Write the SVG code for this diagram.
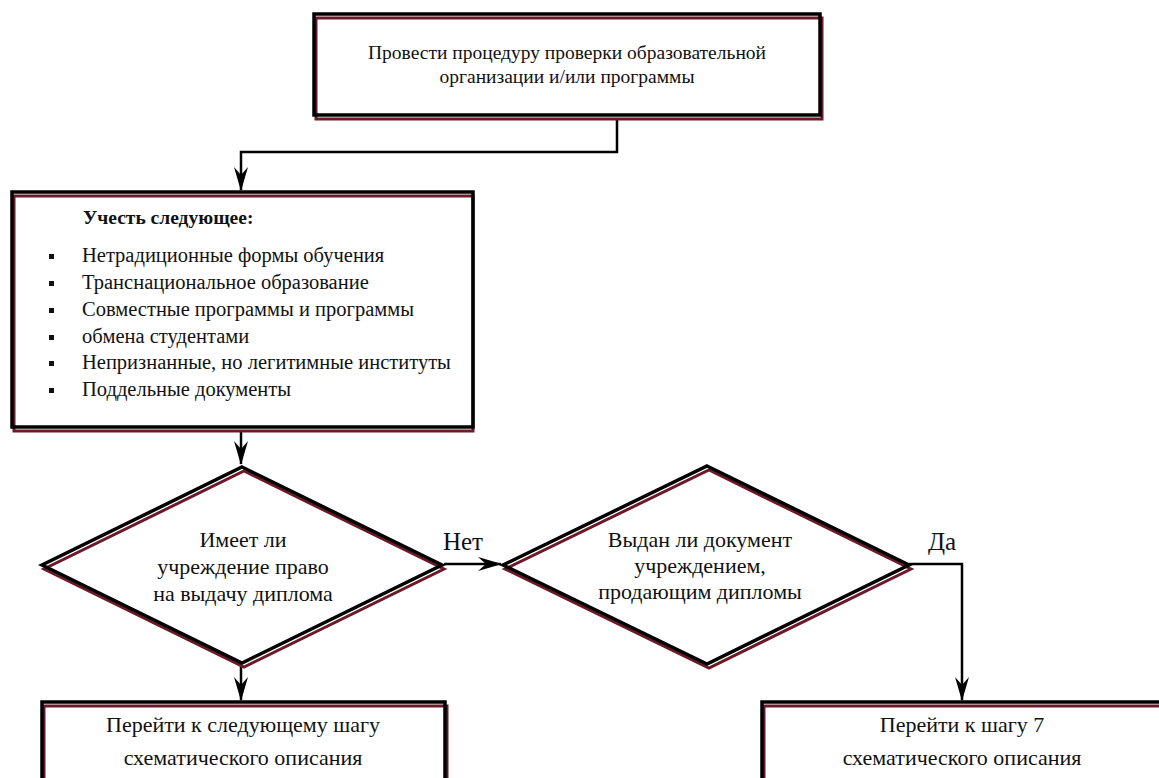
<svg xmlns="http://www.w3.org/2000/svg" width="1159" height="778" viewBox="0 0 1159 778">
<style>
.bk{fill:none;stroke:#000;stroke-width:3.5}
.mr{fill:none;stroke:#6b1a2a;stroke-width:3}
.t{font-family:"Liberation Serif","Times New Roman",serif;fill:#111}
.c{text-anchor:middle}
.ln{fill:none;stroke:#000;stroke-width:2.5}
</style>
<defs>
<marker id="ah" viewBox="0 0 24 14" refX="23" refY="7" markerWidth="24" markerHeight="14" markerUnits="userSpaceOnUse" orient="auto">
<path d="M0,0 L24,7 L0,14 L8,7 Z" fill="#000"/>
</marker>
</defs>
<rect width="1159" height="778" fill="#fff"/>

<g id="connectors">
<polyline class="ln" points="617,119 617,152 241,152 241,190" marker-end="url(#ah)"/>
<line class="ln" x1="241" y1="431" x2="241" y2="464" marker-end="url(#ah)"/>
<line class="ln" x1="444" y1="564" x2="501" y2="564" marker-end="url(#ah)"/>
<line class="ln" x1="241" y1="666" x2="241" y2="700" marker-end="url(#ah)"/>
<polyline class="ln" points="909,564 962,564 962,700" marker-end="url(#ah)"/>
<text class="t c" x="463" y="550" font-size="25">Нет</text>
<text class="t c" x="942" y="550" font-size="25">Да</text>
</g>

<g id="n1">
<rect class="mr" x="316" y="18" width="506" height="101"/>
<rect class="bk" x="314" y="14" width="506" height="101"/>
<text class="t c" x="567" y="59" font-size="19.5">Провести процедуру  проверки образовательной</text>
<text class="t c" x="567" y="83" font-size="19.5">организации и/или программы</text>
</g>

<g id="n2">
<rect class="mr" x="14" y="196" width="459" height="235"/>
<rect class="bk" x="12" y="192" width="461" height="235"/>
<text class="t" x="83" y="224" font-size="19.5" font-weight="bold">Учесть следующее:</text>
<g fill="#111">
<rect x="49" y="254" width="5" height="5"/>
<rect x="49" y="281" width="5" height="5"/>
<rect x="49" y="308" width="5" height="5"/>
<rect x="49" y="335" width="5" height="5"/>
<rect x="49" y="361" width="5" height="5"/>
<rect x="49" y="388" width="5" height="5"/>
</g>
<text class="t" x="82" y="262" font-size="20.5">Нетрадиционные формы обучения</text>
<text class="t" x="82" y="289" font-size="20.5">Транснациональное образование</text>
<text class="t" x="82" y="316" font-size="20.5">Совместные программы и программы</text>
<text class="t" x="82" y="343" font-size="20.5">обмена студентами</text>
<text class="t" x="82" y="369" font-size="20.5">Непризнанные, но легитимные институты</text>
<text class="t" x="82" y="396" font-size="20.5">Поддельные документы</text>
</g>

<g id="d1">
<polygon class="mr" points="244,471 444,569 244,667 44,569"/>
<polygon class="bk" points="242,467 442,565 242,663 42,565"/>
<text class="t c" x="243" y="547" font-size="22">Имеет ли</text>
<text class="t c" x="243" y="574" font-size="22">учреждение право</text>
<text class="t c" x="243" y="601" font-size="22">на выдачу диплома</text>
</g>

<g id="d2">
<polygon class="mr" points="709,470 911,569 709,668 505,569"/>
<polygon class="bk" points="707,466 909,565 707,664 503,565"/>
<text class="t c" x="700" y="547" font-size="22">Выдан ли документ</text>
<text class="t c" x="700" y="573" font-size="22">учреждением,</text>
<text class="t c" x="700" y="599" font-size="22">продающим дипломы</text>
</g>

<g id="n3">
<rect class="mr" x="44" y="706" width="403" height="100"/>
<rect class="bk" x="42" y="702" width="403" height="100"/>
<text class="t c" x="243" y="732" font-size="22">Перейти к следующему шагу</text>
<text class="t c" x="243" y="765" font-size="22">схематического описания</text>
</g>

<g id="n4">
<rect class="mr" x="764" y="706" width="420" height="100"/>
<rect class="bk" x="762" y="702" width="420" height="100"/>
<text class="t c" x="962" y="732" font-size="22">Перейти к шагу 7</text>
<text class="t c" x="962" y="765" font-size="22">схематического описания</text>
</g>
</svg>
